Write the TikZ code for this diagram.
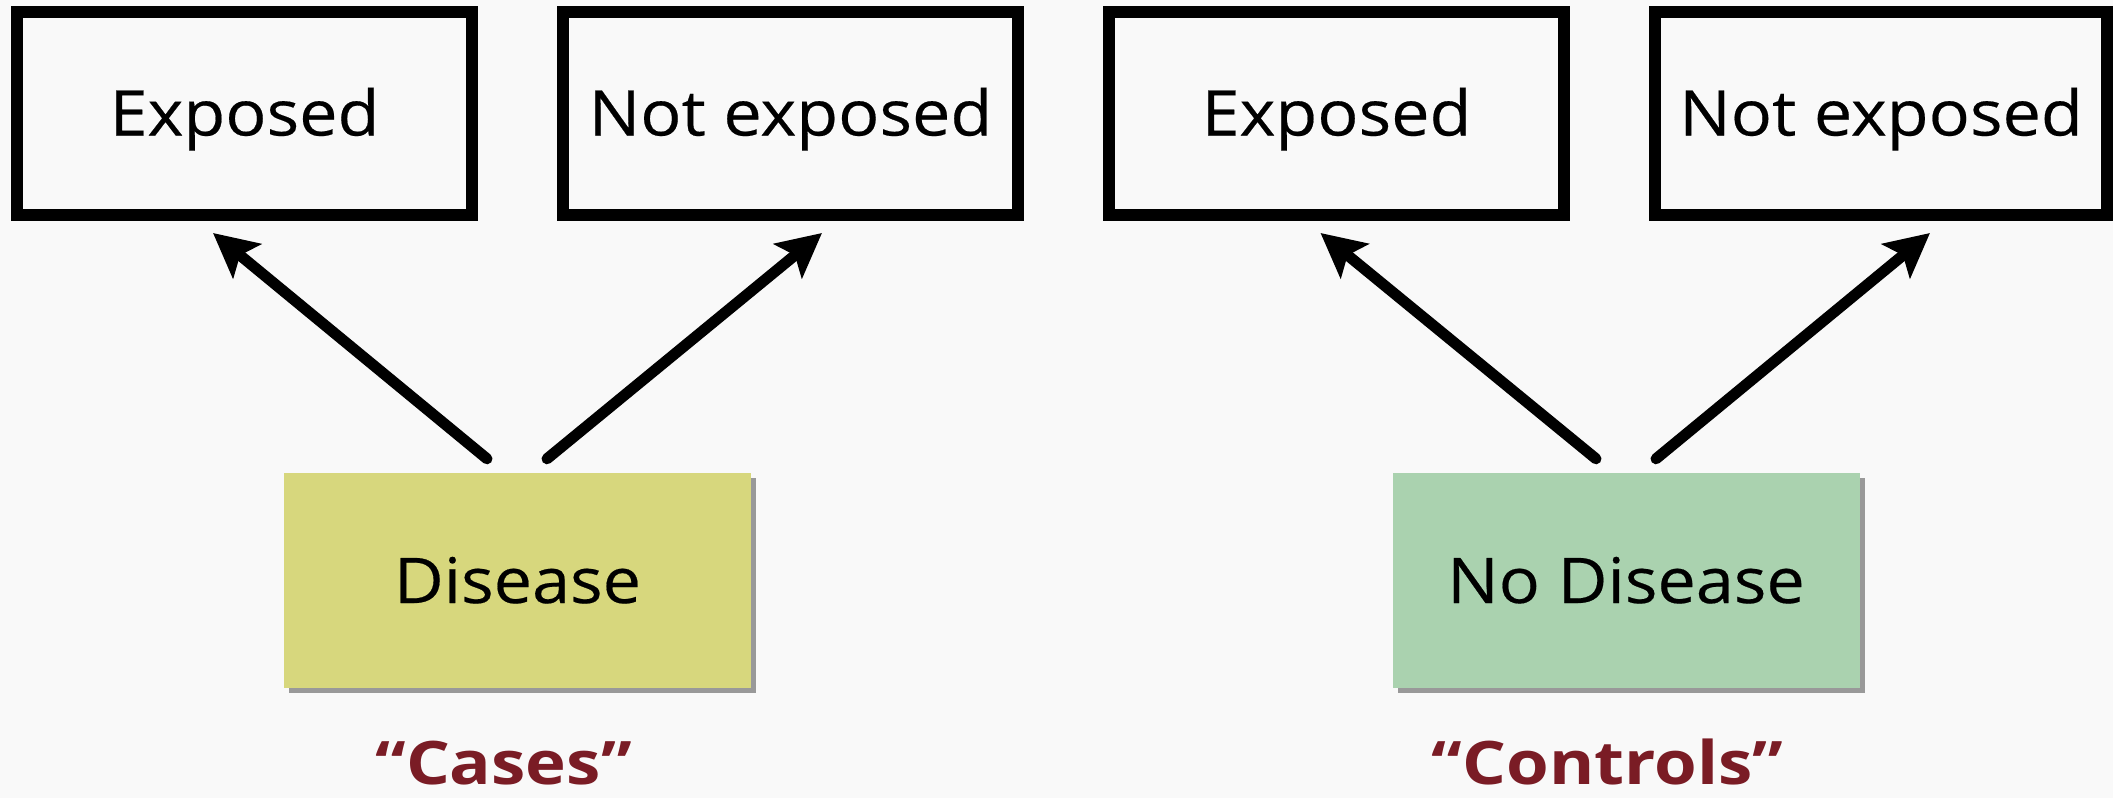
\documentclass[tikz,border=0pt]{standalone}
\usepackage{fontspec}
\setmainfont{Open Sans}
\newfontfamily\boxfamily{Open Sans}[FakeStretch=1.085, FakeBold=0.3]
\newfontfamily\tagfamily{Open Sans}[FakeStretch=1.15]
\usetikzlibrary{arrows.meta,shadows}
\definecolor{bgc}{HTML}{F9F9F9}
\definecolor{diseasefill}{HTML}{D7D77D}
\definecolor{nodiseasefill}{HTML}{AAD2AF}
\definecolor{tagred}{HTML}{7A1C25}
\begin{document}
\begin{tikzpicture}[x=1pt,y=-1pt,
  expbox/.style={draw=black, line width=12pt, minimum width=455pt, minimum height=203pt,
    inner sep=0pt, text height=45pt, text depth=0pt,
    font={\boxfamily\fontsize{63}{76}\selectfont}},
  statebox/.style={draw=none, minimum width=467pt, minimum height=215pt, inner sep=0pt,
    text height=45pt, text depth=0pt,
    font={\boxfamily\fontsize{63}{76}\selectfont},
    drop shadow={shadow xshift=5pt, shadow yshift=-5pt, fill=black!40, opacity=1}},
  tag/.style={text=tagred, anchor=base, inner sep=0pt, text depth=0pt,
    font={\tagfamily\bfseries\fontsize{60}{72}\selectfont}},
  arr/.style={line width=11pt, line cap=round, draw=black,
    -{Stealth[length=44pt, width=44pt, inset=9pt]}}]
\fill[bgc] (0,0) rectangle (2113,798);
\useasboundingbox (0,0) rectangle (2113,798);

\node[expbox] (ex1) at (244.5,113) {Exposed};
\node[expbox] (ne1) at (790.5,113) {Not exposed};
\node[expbox] (ex2) at (1336.5,113) {Exposed};
\node[expbox, minimum width=452pt] (ne2) at (1881,113) {Not exposed};

\node[statebox, fill=diseasefill] (dis) at (517.5,580.5) {Disease};
\node[statebox, fill=nodiseasefill] (nodis) at (1626,580.5) {No Disease};

\node[tag] (cases) at (503.5,784) {“Cases”};
\node[tag] (controls) at (1607.5,784) {“Controls”};

\draw[arr] ([xshift=-30.5pt,yshift=14pt]dis.north) -- ([xshift=-31.5pt,yshift=-12.5pt]ex1.south);
\draw[arr] ([xshift=29.5pt,yshift=14pt]dis.north) -- ([xshift=31.5pt,yshift=-12.5pt]ne1.south);
\draw[arr] ([xshift=-30pt,yshift=14pt]nodis.north) -- ([xshift=-16pt,yshift=-12.5pt]ex2.south);
\draw[arr] ([xshift=30pt,yshift=14pt]nodis.north) -- ([xshift=49pt,yshift=-12.5pt]ne2.south);
\end{tikzpicture}
\end{document}
